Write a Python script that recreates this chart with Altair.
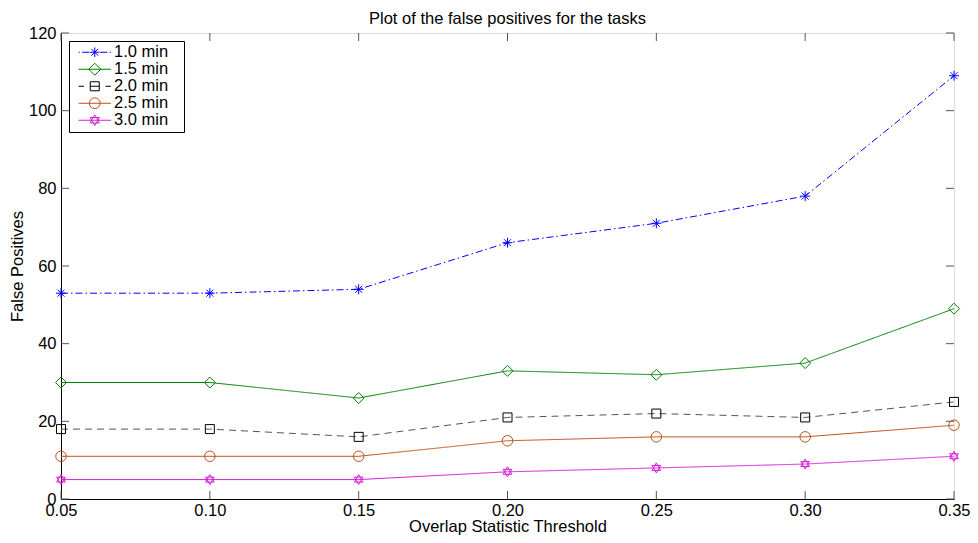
import altair as alt
import pandas as pd

# ---- data ----
thresholds = [0.05, 0.10, 0.15, 0.20, 0.25, 0.30, 0.35]
series_names = ["1.0 min", "1.5 min", "2.0 min", "2.5 min", "3.0 min"]
fp_10 = [53, 53, 54, 66, 71, 78, 109]
fp_15 = [30, 30, 26, 33, 32, 35, 49]
fp_20 = [18, 18, 16, 21, 22, 21, 25]
fp_25 = [11, 11, 11, 15, 16, 16, 19]
fp_30 = [5, 5, 5, 7, 8, 9, 11]
x_ticks = [0.05, 0.10, 0.15, 0.20, 0.25, 0.30, 0.35]
y_ticks = [0, 20, 40, 60, 80, 100, 120]

values = [fp_10, fp_15, fp_20, fp_25, fp_30]
rows = []
for name, vals in zip(series_names, values):
    for t, v in zip(thresholds, vals):
        rows.append({"threshold": t, "fp": v, "series": name})
df = pd.DataFrame(rows)
xt_df = pd.DataFrame({"threshold": x_ticks})
yt_df = pd.DataFrame({"fp": y_ticks})

# ---- styles ----
W, H = 893, 466
TL = 8  # inward tick length
FONT = "Liberation Sans"
FS = 16.5

line_colors = ["#0000ff", "#008000", "#555555", "#bf4f17", "#d81bd8"]
marker_colors = ["#0000ff", "#008000", "#000000", "#bf4f17", "#d81bd8"]
dashes = [[7, 3, 1.5, 3], [1, 0], [7, 5], [1, 0], [1, 0]]

asterisk = "M-1,0L1,0M0,-1L0,1M-0.7,-0.7L0.7,0.7M-0.7,0.7L0.7,-0.7"
hexagram = "M0,-1L0.866,0.5L-0.866,0.5ZM0,1L0.866,-0.5L-0.866,-0.5Z"
marker_shapes = [asterisk, "diamond", "square", "circle", hexagram]
marker_sizes = [100, 121, 81, 110, 100]

legend_paths = [
    "M-2.7,0L-2.5,0M-2.1,0L-0.9,0M0.9,0L2.1,0M2.5,0L2.7,0"
    "M-0.8,0L0.8,0M0,-0.8L0,0.8M-0.57,-0.57L0.57,0.57M-0.57,0.57L0.57,-0.57",
    "M-2.7,0L2.7,0M-1,0L0,-1L1,0L0,1Z",
    "M-2.7,0L-1.8,0M-0.75,0L0.75,0M1.8,0L2.7,0"
    "M-0.75,-0.75L0.75,-0.75L0.75,0.75L-0.75,0.75Z",
    "M-2.7,0L2.7,0M0.9,0A0.9,0.9,0,1,1,-0.9,0A0.9,0.9,0,1,1,0.9,0Z",
    "M-2.7,0L2.7,0M0,-0.9L0.78,0.45L-0.78,0.45ZM0,0.9L0.78,-0.45L-0.78,-0.45Z",
]

xscale = alt.Scale(domain=[0.05, 0.35], nice=False, zero=False)
yscale = alt.Scale(domain=[0, 120], nice=False, zero=False)

x_axis = alt.Axis(title="Overlap Statistic Threshold", values=x_ticks, format=".2f",
                  ticks=False, domain=True, domainColor="black", domainWidth=1,
                  grid=False, labelFlush=False, labelOverlap=False,
                  labelFont=FONT, labelFontSize=FS, labelColor="black", labelPadding=3,
                  titleFont=FONT, titleFontSize=FS, titleFontWeight="normal",
                  titleColor="black", titlePadding=0)
y_axis = alt.Axis(title="False Positives", values=y_ticks, format="d",
                  ticks=False, domain=True, domainColor="black", domainWidth=1,
                  grid=False, labelFlush=False, labelOverlap=False,
                  labelFont=FONT, labelFontSize=FS, labelColor="black", labelPadding=5,
                  titleFont=FONT, titleFontSize=FS, titleFontWeight="normal",
                  titleColor="black", titlePadding=3)

X = alt.X("threshold:Q", scale=xscale, axis=x_axis, title="Overlap Statistic Threshold")
Y = alt.Y("fp:Q", scale=yscale, axis=y_axis, title="False Positives")

base = alt.Chart(df)
layers = []

# inward tick marks on all four sides
TICK_COLOR = "#555555"
xt = alt.Chart(xt_df)
yt = alt.Chart(yt_df)
layers.append(xt.mark_rule(color=TICK_COLOR, strokeWidth=1).encode(
    x=X, y=alt.value(H), y2=alt.value(H - TL)))
layers.append(xt.mark_rule(color=TICK_COLOR, strokeWidth=1).encode(
    x=X, y=alt.value(0), y2=alt.value(TL)))
layers.append(yt.mark_rule(color=TICK_COLOR, strokeWidth=1).encode(
    y=Y, x=alt.value(0), x2=alt.value(TL)))
layers.append(yt.mark_rule(color=TICK_COLOR, strokeWidth=1).encode(
    y=Y, x=alt.value(W), x2=alt.value(W - TL)))

for i, name in enumerate(series_names):
    line = base.transform_filter(alt.datum.series == name).mark_line(
        color=line_colors[i], strokeDash=dashes[i], strokeWidth=1
    ).encode(x=X, y=Y)
    layers.append(line)

for i, name in enumerate(series_names):
    pts = base.transform_filter(alt.datum.series == name).mark_point(
        shape=marker_shapes[i], size=marker_sizes[i], color=marker_colors[i],
        filled=False, strokeWidth=1, opacity=1
    ).encode(x=X, y=Y)
    layers.append(pts)

leg = alt.Legend(orient="top-left", offset=8, padding=3, strokeColor="black",
                 fillColor="white", symbolSize=144, symbolStrokeWidth=1,
                 symbolOffset=14.5, labelOffset=11, labelFont=FONT,
                 labelFontSize=FS, labelColor="black", rowPadding=0, title=None,
                 symbolOpacity=1,
                 labelExpr="datum.label + '\u2800'")

legend_layer = base.mark_point(filled=False, opacity=0, size=144).encode(
    x=X, y=Y,
    color=alt.Color("series:N", scale=alt.Scale(domain=series_names, range=marker_colors), legend=leg),
    shape=alt.Shape("series:N", scale=alt.Scale(domain=series_names, range=legend_paths), legend=leg),
)
layers.append(legend_layer)

chart = alt.layer(*layers).properties(
    width=W, height=H,
    title=alt.TitleParams("Plot of the false positives for the tasks", font=FONT,
                          fontSize=FS, fontWeight="normal", color="black",
                          anchor="middle", frame="group", offset=-2),
    autosize=alt.AutoSizeParams(type="none"),
    padding={"left": 53, "top": 25, "right": 16, "bottom": 36},
).configure_view(
    stroke="black", strokeWidth=1
).configure(background="white")

chart.save("out.html", embed_options={"renderer": "svg", "actions": False})
